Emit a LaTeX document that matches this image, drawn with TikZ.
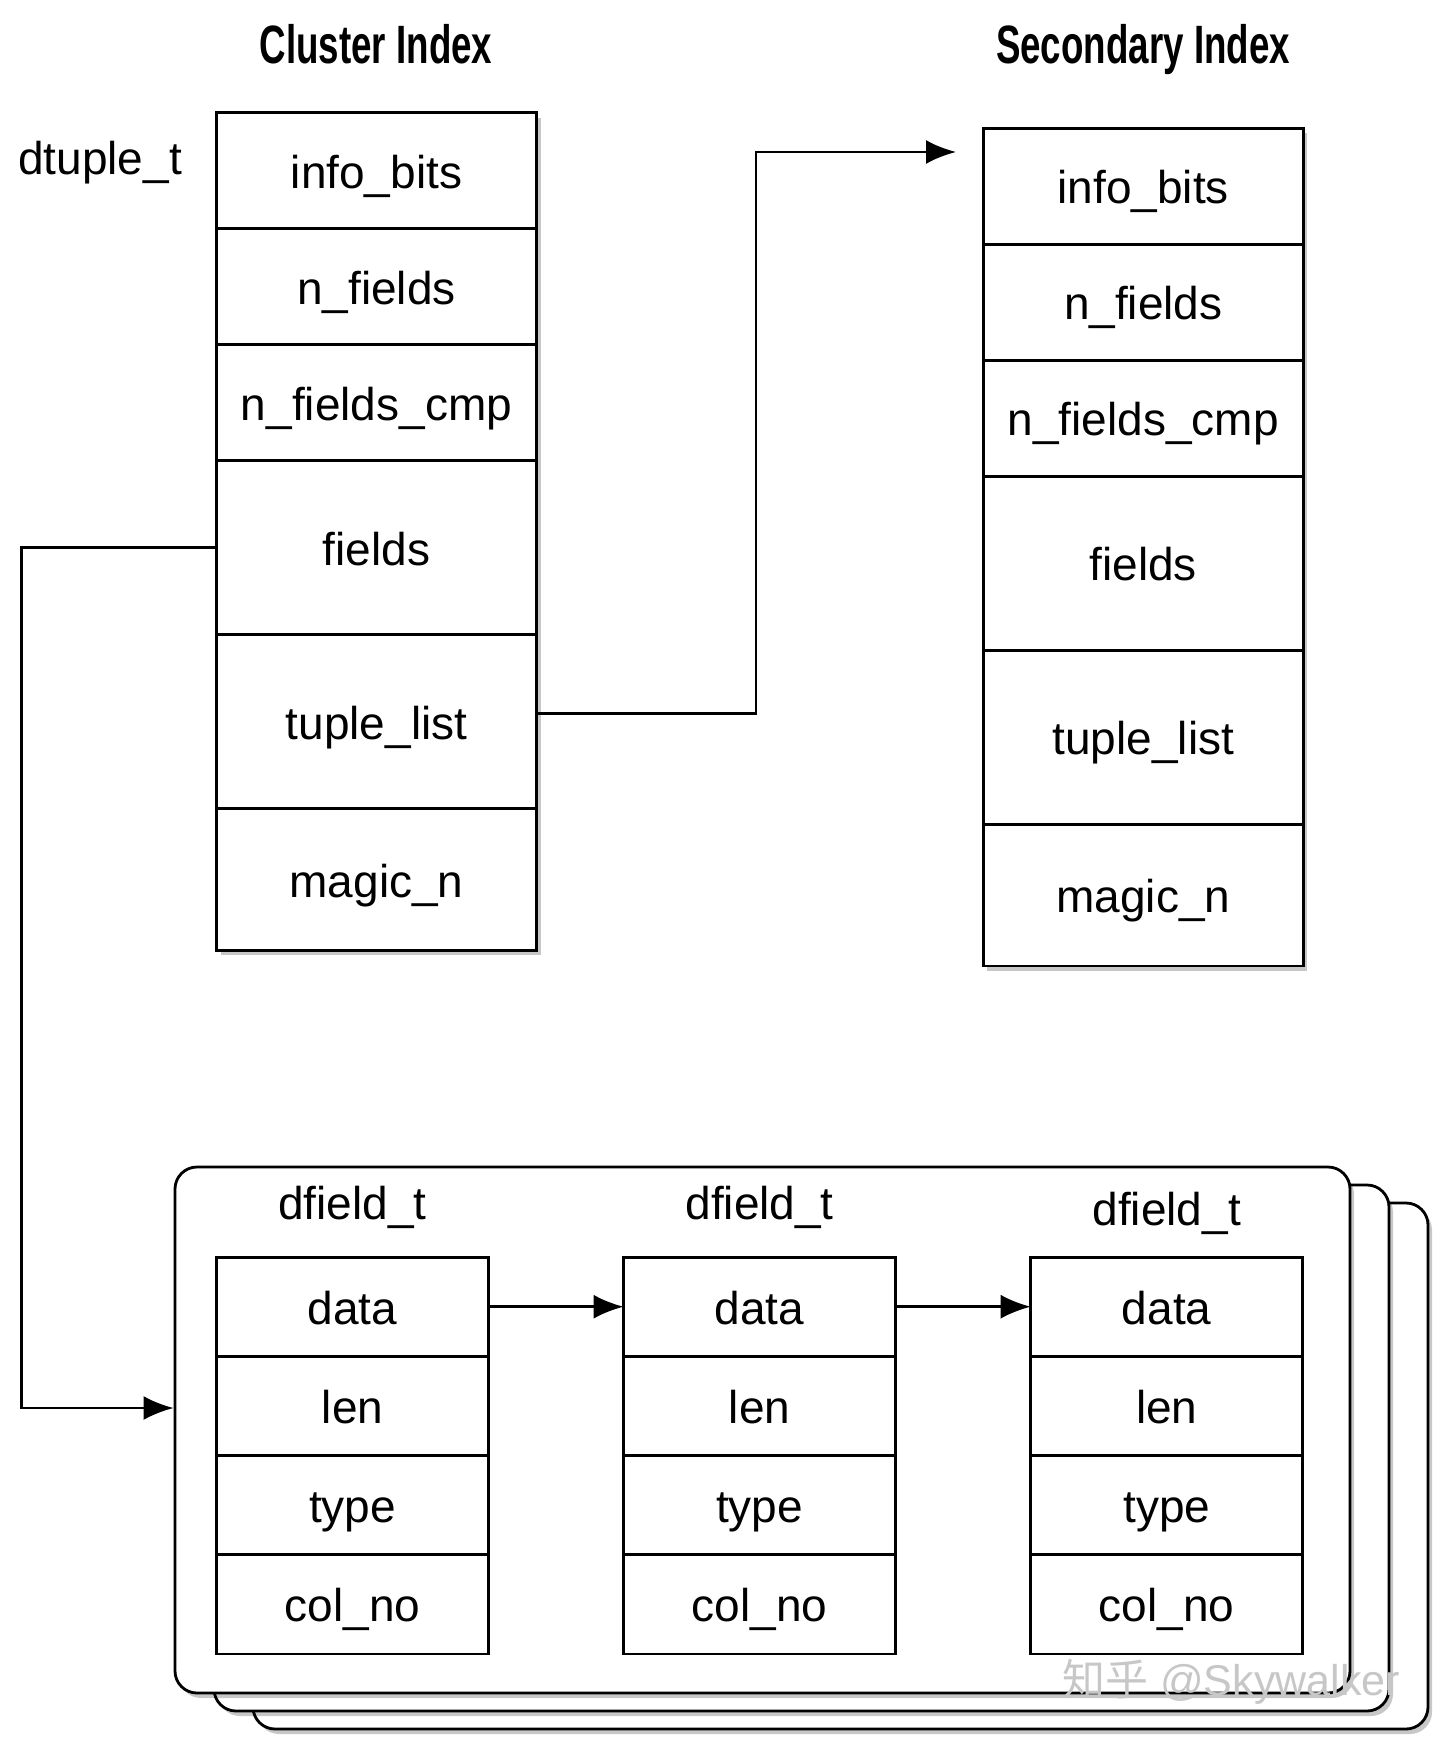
\documentclass[tikz,border=0pt]{standalone}
\usepackage{fontspec}
\setmainfont{Liberation Sans}
\newfontfamily\cjkfont{Noto Sans CJK SC}
\usepackage{graphicx}
\usetikzlibrary{arrows.meta, positioning, shadows}

\begin{document}
\begin{tikzpicture}[
        x=0.5pt, y=-0.5pt,
        cell/.style={rectangle, draw, line width=1.4pt, fill=white, outer sep=0pt, minimum width=160pt, align=center, text height=17.6pt, text depth=0pt, font=\fontsize{23}{27}\selectfont},
        shade/.style={drop shadow={shadow xshift=2pt, shadow yshift=-2.5pt, fill=black, opacity=0.22}},
        small/.style={cell, shade, minimum height=58pt},
        tall/.style={cell, shade, minimum height=87pt},
        last/.style={cell, shade, minimum height=70.8pt},
        fcell/.style={cell, minimum width=136pt, minimum height=49.6pt},
        layer/.style={draw, line width=1.4pt, fill=white, rounded corners=11pt, minimum width=587.5pt, minimum height=263pt, shade},
        lbl/.style={font=\fontsize{23}{27}\selectfont},
        head/.style={anchor=base, font=\bfseries\fontsize{27}{32}\selectfont},
        arr/.style={-{Latex[length=15pt, width=12pt]}, line width=1.4pt}
    ]
        \useasboundingbox (0,0) rectangle (1440,1749);

        % Titles
        \node[head] (ctitle) at (376,64) {\scalebox{0.68}[1]{Cluster Index}};
        \node[head] (stitle) at (1143,64) {\scalebox{0.68}[1]{Secondary Index}};
        \node[lbl] (dtl) at (100,163) {dtuple\_t};

        % Cluster Index dtuple
        \node[small] (cinfo) at (376.5,170.7) {info\_bits};
        \node[small, below=0pt of cinfo] (cnf) {n\_fields};
        \node[small, below=0pt of cnf] (ccmp) {n\_fields\_cmp};
        \node[tall, below=0pt of ccmp] (cfields) {fields};
        \node[tall, below=0pt of cfields] (ctuple) {tuple\_list};
        \node[last, below=0pt of ctuple] (cmagic) {magic\_n};

        % Secondary Index dtuple
        \node[small] (sinfo) at (1143.3,186.3) {info\_bits};
        \node[small, below=0pt of sinfo] (snf) {n\_fields};
        \node[small, below=0pt of snf] (scmp) {n\_fields\_cmp};
        \node[tall, below=0pt of scmp] (sfields) {fields};
        \node[tall, below=0pt of sfields] (stuple) {tuple\_list};
        \node[last, below=0pt of stuple] (smagic) {magic\_n};

        % Stack of dfield arrays (back to front)
        \node[layer] (stack3) at (840.5,1466) {};
        \node[layer] (stack2) at (801.5,1448) {};
        \node[layer] (stack1) at (762.5,1430) {};

        % dfield_t boxes
        \node[fcell] (d1data) at (352.5,1306.7) {data};
        \node[fcell, below=0pt of d1data] (d1len) {len};
        \node[fcell, below=0pt of d1len] (d1type) {type};
        \node[fcell, below=0pt of d1type] (d1col) {col\_no};

        \node[fcell] (d2data) at (759.6,1306.7) {data};
        \node[fcell, below=0pt of d2data] (d2len) {len};
        \node[fcell, below=0pt of d2len] (d2type) {type};
        \node[fcell, below=0pt of d2type] (d2col) {col\_no};

        \node[fcell] (d3data) at (1166.7,1306.7) {data};
        \node[fcell, below=0pt of d3data] (d3len) {len};
        \node[fcell, below=0pt of d3len] (d3type) {type};
        \node[fcell, below=0pt of d3type] (d3col) {col\_no};

        \node[lbl] (d1lbl) at ([yshift=25pt]d1data.north) {dfield\_t};
        \node[lbl] (d2lbl) at ([yshift=25pt]d2data.north) {dfield\_t};
        \node[lbl] (d3lbl) at ([yshift=22pt]d3data.north) {dfield\_t};

        % tuple_list -> Secondary Index
        \coordinate (sin) at (956,152);
        \draw[arr] ([yshift=4pt]ctuple.east) -- ++(219.5,0) |- (sin);
        % fields -> dfield array
        \draw[arr] (cfields.west) -- ++(-195,0) |- ([yshift=11pt]stack1.west);
        % data -> data
        \draw[arr] (d1data.east) -- (d2data.west);
        \draw[arr] (d2data.east) -- (d3data.west);

        % Watermark
        \node[font=\fontsize{21.5}{26}\selectfont, text=black!22] (wm) at (1231,1682) {{\cjkfont 知乎} @Skywalker};
    \end{tikzpicture}
\end{document}
